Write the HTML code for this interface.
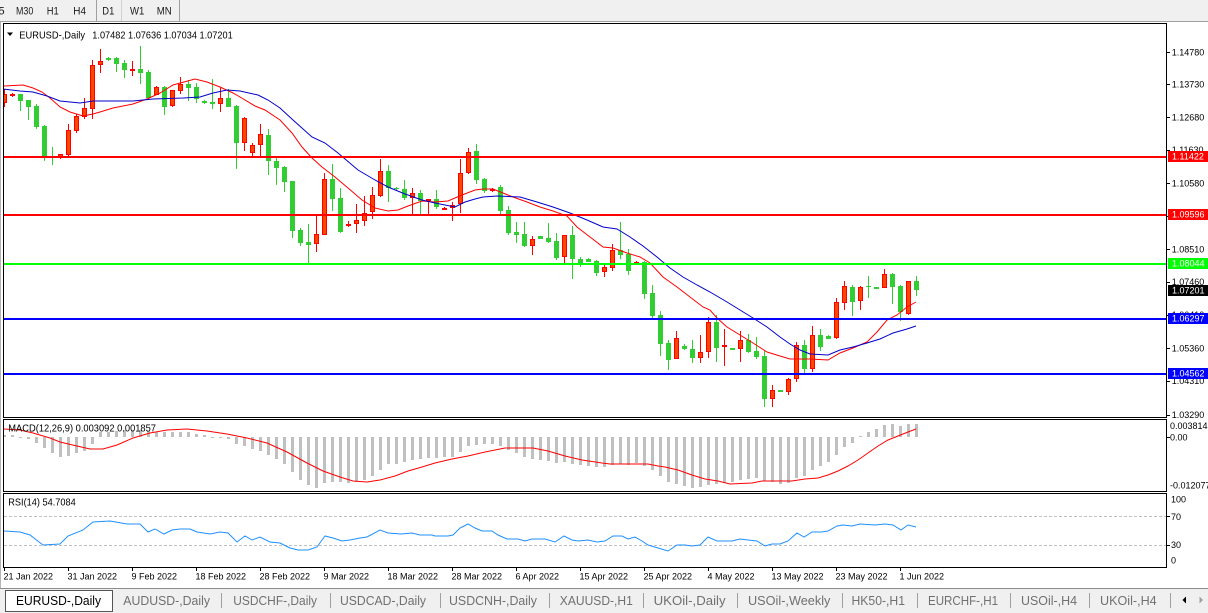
<!DOCTYPE html>
<html><head><meta charset="utf-8"><style>
html,body{margin:0;padding:0;background:#fff;width:1208px;height:613px;overflow:hidden}
svg{display:block}
text{font-family:"Liberation Sans",sans-serif}
</style></head><body>
<svg width="1208" height="613" viewBox="0 0 1208 613" xmlns="http://www.w3.org/2000/svg">
<defs>
<clipPath id="cm"><rect x="4" y="24" width="1162" height="393"/></clipPath>
<clipPath id="cd"><rect x="4" y="420" width="1162" height="71"/></clipPath>
<clipPath id="cr"><rect x="4" y="494" width="1162" height="73"/></clipPath>
</defs>
<rect width="1208" height="613" fill="#fff"/>
<!-- toolbar -->
<rect x="0" y="0" width="1208" height="21" fill="#f0f0f0"/>
<line x1="0" y1="21.5" x2="1208" y2="21.5" stroke="#a0a0a0"/>
<line x1="96.5" y1="0" x2="96.5" y2="21" stroke="#a0a0a0"/>
<line x1="121.5" y1="0" x2="121.5" y2="21" stroke="#d0d0d0"/>
<line x1="179.5" y1="0" x2="179.5" y2="21" stroke="#a0a0a0"/>
<g font-size="11" fill="#1a1a1a">
<text x="-1.5" y="14.5">5</text>
<text x="16" y="14.5" textLength="17.3" lengthAdjust="spacingAndGlyphs">M30</text>
<text x="46.7" y="14.5" textLength="12" lengthAdjust="spacingAndGlyphs">H1</text>
<text x="73.3" y="14.5" textLength="12.7" lengthAdjust="spacingAndGlyphs">H4</text>
<text x="102.3" y="14.5" textLength="12" lengthAdjust="spacingAndGlyphs">D1</text>
<text x="130" y="14.5" textLength="14.3" lengthAdjust="spacingAndGlyphs">W1</text>
<text x="156.7" y="14.5" textLength="15" lengthAdjust="spacingAndGlyphs">MN</text>
</g>
<line x1="0.5" y1="22" x2="0.5" y2="588" stroke="#b4b4b4"/>

<!-- main chart -->
<g clip-path="url(#cm)">
<path fill="none" stroke="#32cd32" stroke-width="1" d="M20.5 94V111M28.5 100V120M36.5 104V129M44.5 125V161M52.5 147V165M108.5 57V61M116.5 57V72M124.5 60V78M140.5 46V84M148.5 70V99M164.5 86V115M188.5 80V101M196.5 83V103M204.5 100V104M212.5 79V109M228.5 89V107M236.5 105V169M268.5 129V175M276.5 157V185M284.5 166V192M292.5 181V238M300.5 228V246M308.5 224V263M332.5 164V211M340.5 188V233M388.5 165V202M396.5 187V190M404.5 180V200M420.5 190V214M436.5 190V209M476.5 144V184M484.5 178V193M500.5 185V215M508.5 206V235M516.5 222V243M524.5 222V247M540.5 236V239M548.5 223V243M556.5 233V260M572.5 226V279M580.5 257V267M588.5 258V262M596.5 260V276M620.5 222V259M628.5 249V275M644.5 261V299M652.5 285V318M660.5 311V356M668.5 340V370M684.5 344V350M692.5 340V363M716.5 315V362M732.5 348V350M748.5 334V353M756.5 337V359M764.5 351V407M780.5 390V392M804.5 340V374M820.5 329V351M828.5 335V339M852.5 285V316M868.5 276V298M876.5 287V289M892.5 273V304M900.5 285V321M916.5 276V296"/>
<path fill="#32cd32" d="M18 94h5v7h-5zM26 100h5v7h-5zM34 106h5v21h-5zM42 126h5v31h-5zM50 156h5v1h-5zM106 58h5v2h-5zM114 58h5v6h-5zM122 63h5v7h-5zM138 69h5v4h-5zM146 72h5v26h-5zM162 87h5v20h-5zM186 84h5v4h-5zM194 87h5v12h-5zM202 101h5v2h-5zM210 102h5v2h-5zM226 98h5v9h-5zM234 106h5v37h-5zM266 135h5v26h-5zM274 161h5v7h-5zM282 167h5v15h-5zM290 181h5v50h-5zM298 230h5v13h-5zM306 242h5v3h-5zM330 179h5v20h-5zM338 198h5v34h-5zM386 171h5v17h-5zM394 188h5v1h-5zM402 189h5v9h-5zM418 193h5v8h-5zM434 199h5v8h-5zM474 151h5v29h-5zM482 179h5v12h-5zM498 187h5v24h-5zM506 210h5v23h-5zM514 232h5v3h-5zM522 234h5v12h-5zM538 236h5v3h-5zM546 238h5v4h-5zM554 241h5v17h-5zM570 235h5v24h-5zM578 259h5v4h-5zM586 259h5v3h-5zM594 261h5v12h-5zM618 250h5v5h-5zM626 254h5v17h-5zM642 262h5v32h-5zM650 293h5v23h-5zM658 315h5v29h-5zM666 343h5v17h-5zM682 346h5v3h-5zM690 349h5v9h-5zM714 322h5v26h-5zM730 348h5v2h-5zM746 340h5v12h-5zM754 351h5v6h-5zM762 356h5v43h-5zM778 390h5v2h-5zM802 345h5v24h-5zM818 335h5v12h-5zM826 336h5v3h-5zM850 287h5v15h-5zM866 286h5v1h-5zM874 287h5v2h-5zM890 274h5v13h-5zM898 286h5v26h-5zM914 281h5v9h-5z"/>
<path fill="none" stroke="#ff0000" stroke-width="1" d="M4.5 89V107M12.5 93V97M60.5 154V159M68.5 124V156M76.5 114V133M84.5 98V119M92.5 60V119M100.5 49V73M132.5 61V76M156.5 86V95M172.5 90V107M180.5 77V94M220.5 87V112M244.5 117V151M252.5 143V156M260.5 124V156M316.5 216V252M324.5 173V235M348.5 221V227M356.5 204V233M364.5 196V226M372.5 187V219M380.5 159V197M412.5 188V214M428.5 199V214M444.5 207V209M452.5 202V221M460.5 159V213M468.5 148V174M492.5 188V192M532.5 236V255M564.5 235V263M604.5 264V277M612.5 244V271M636.5 261V264M676.5 331V359M700.5 335V363M708.5 317V358M724.5 329V366M740.5 331V362M772.5 385V407M788.5 378V395M796.5 342V382M812.5 326V372M836.5 298V339M844.5 281V310M860.5 286V310M884.5 269V288M908.5 281V315"/>
<path fill="#ff0000" d="M10 94h5v2h-5zM130 69h5v2h-5zM346 224h5v2h-5zM426 199h5v2h-5zM442 208h5v2h-5zM490 189h5v2h-5zM634 262h5v2h-5zM722 345h5v2h-5z"/>
<path fill="#ff4500" stroke="#ff0000" stroke-width="1" d="M2.5 94.5h4v8h-4zM58.5 154.5h4v2h-4zM66.5 130.5h4v24h-4zM74.5 116.5h4v14h-4zM82.5 108.5h4v8h-4zM90.5 65.5h4v43h-4zM98.5 61.5h4v3h-4zM154.5 87.5h4v7h-4zM170.5 90.5h4v15h-4zM178.5 84.5h4v6h-4zM218.5 98.5h4v5h-4zM242.5 118.5h4v24h-4zM250.5 145.5h4v7h-4zM258.5 134.5h4v10h-4zM314.5 234.5h4v9h-4zM322.5 179.5h4v55h-4zM354.5 220.5h4v3h-4zM362.5 213.5h4v7h-4zM370.5 195.5h4v16h-4zM378.5 171.5h4v24h-4zM410.5 193.5h4v4h-4zM450.5 205.5h4v2h-4zM458.5 173.5h4v30h-4zM466.5 152.5h4v20h-4zM530.5 239.5h4v6h-4zM562.5 235.5h4v21h-4zM602.5 267.5h4v4h-4zM610.5 250.5h4v17h-4zM674.5 338.5h4v20h-4zM698.5 352.5h4v5h-4zM706.5 322.5h4v29h-4zM738.5 340.5h4v8h-4zM770.5 390.5h4v8h-4zM786.5 379.5h4v12h-4zM794.5 345.5h4v33h-4zM810.5 335.5h4v33h-4zM834.5 302.5h4v35h-4zM842.5 286.5h4v16h-4zM858.5 287.5h4v13h-4zM882.5 274.5h4v13h-4zM906.5 281.5h4v32h-4z"/>
<polyline fill="none" stroke="#ff0000" stroke-width="1" points="3,86 23,85 33,88 42,92 50,98 60,107 70,112 83,116 93,114 100,112 113,108 133,104 147,99 160,93 173,85 195,79 207,82 220,87 233,93 240,97 255,106 265,110 280,120 292,133 302,147 312,158 322,167 335,177 348,188 362,200 375,208 388,211 398,210 408,206 422,201 435,202 448,201 462,195 475,190 483,189 493,189 503,193 513,197 527,202 540,207 553,211 567,216 577,227 590,237 603,247 613,248 627,253 640,257 650,263 663,277 677,287 690,297 703,307 710,310 717,318 727,327 740,335 753,343 767,352 780,356 790,359 810,359 828,360 840,353 853,348 867,342 877,332 887,320 897,315 907,307 916,302"/>
<polyline fill="none" stroke="#0000cd" stroke-width="1" points="3,89 20,91 33,92 47,96 60,101 80,103 93,101 133,101 153,99 183,98 200,97 213,93 227,90 240,91 258,95 268,100 280,108 293,120 312,137 325,143 338,153 358,170 375,180 388,187 405,194 422,200 435,203 455,207 465,202 475,199 483,197 497,196 520,197 537,202 553,207 570,213 587,220 603,227 617,229 630,237 643,246 657,257 670,268 683,277 697,285 710,292 727,302 740,310 753,318 767,327 780,337 790,344 800,350 810,354 828,355 840,350 853,347 867,343 880,339 893,333 907,329 916,326"/>
<rect x="4" y="156" width="1162" height="2" fill="#ff0000"/>
<rect x="4" y="214" width="1162" height="2" fill="#ff0000"/>
<rect x="4" y="263" width="1162" height="2" fill="#00ff00"/>
<rect x="4" y="318" width="1162" height="2" fill="#0000ff"/>
<rect x="4" y="373" width="1162" height="2" fill="#0000ff"/>
</g>
<rect x="3.5" y="23.5" width="1163" height="394" fill="none" stroke="#000"/>
<polygon points="7,32.5 13,32.5 10,36" fill="#000"/>
<text x="19.3" y="38.3" font-size="10.5" fill="#000" textLength="65.7" lengthAdjust="spacingAndGlyphs">EURUSD-,Daily</text>
<text x="92.3" y="38.3" font-size="10.5" fill="#000" textLength="140.4" lengthAdjust="spacingAndGlyphs">1.07482 1.07636 1.07034 1.07201</text>

<!-- price axis -->
<path stroke="#000" stroke-width="1" d="M1166 52.5h4M1166 84.5h4M1166 117.5h4M1166 150.5h4M1166 183.5h4M1166 216.5h4M1166 249.5h4M1166 282.5h4M1166 315.5h4M1166 348.5h4M1166 381.5h4M1166 415.5h4"/>
<g font-size="9" fill="#000">
<text x="1171.7" y="55.5">1.14780</text>
<text x="1171.7" y="87.5">1.13730</text>
<text x="1171.7" y="120.7">1.12680</text>
<text x="1171.7" y="153">1.11630</text>
<text x="1171.7" y="186.5">1.10580</text>
<text x="1171.7" y="219.5">1.09530</text>
<text x="1171.7" y="252.5">1.08510</text>
<text x="1171.7" y="285">1.07460</text>
<text x="1171.7" y="318">1.06410</text>
<text x="1171.7" y="351.5">1.05360</text>
<text x="1171.7" y="384">1.04310</text>
<text x="1171.7" y="418">1.03290</text>
</g>
<rect x="1168" y="151" width="40" height="11" fill="#ff0000"/>
<rect x="1168" y="209" width="40" height="11" fill="#ff0000"/>
<rect x="1168" y="258" width="40" height="11" fill="#00ff00"/>
<rect x="1168" y="285" width="40" height="11" fill="#000"/>
<rect x="1168" y="313" width="40" height="11" fill="#0000ff"/>
<rect x="1168" y="368" width="40" height="11" fill="#0000ff"/>
<g font-size="9" fill="#fff">
<text x="1172" y="159.7">1.11422</text>
<text x="1172" y="217.7">1.09596</text>
<text x="1172" y="266.7">1.08044</text>
<text x="1172" y="293.7">1.07201</text>
<text x="1172" y="321.7">1.06297</text>
<text x="1172" y="376.7">1.04562</text>
</g>

<!-- MACD -->
<g clip-path="url(#cd)">
<path fill="none" stroke="#c0c0c0" stroke-width="3" d="M4.5 435V437M12.5 435V437M20.5 437V438M28.5 437V439M36.5 437V443M44.5 437V448M52.5 437V453M60.5 437V457M68.5 437V456M76.5 437V453M84.5 437V451M92.5 437V444M100.5 432V437M108.5 432V437M116.5 431V437M124.5 430V437M132.5 430V437M140.5 430V437M148.5 431V437M156.5 432V437M164.5 432V437M172.5 432V437M180.5 432V437M188.5 432V437M196.5 434V437M204.5 435V437M212.5 437V438M220.5 437V438M228.5 437V439M236.5 437V444M244.5 437V446M252.5 437V449M260.5 437V451M268.5 437V455M276.5 437V459M284.5 437V464M292.5 437V472M300.5 437V480M308.5 437V485M316.5 437V488M324.5 437V483M332.5 437V482M340.5 437V482M348.5 437V483M356.5 437V482M364.5 437V480M372.5 437V476M380.5 437V470M388.5 437V464M396.5 437V464M404.5 437V462M412.5 437V460M420.5 437V459M428.5 437V458M436.5 437V458M444.5 437V457M452.5 437V457M460.5 437V452M468.5 437V446M476.5 437V445M484.5 437V444M492.5 437V444M500.5 437V446M508.5 437V450M516.5 437V453M524.5 437V457M532.5 437V459M540.5 437V460M548.5 437V461M556.5 437V463M564.5 437V462M572.5 437V464M580.5 437V465M588.5 437V466M596.5 437V467M604.5 437V467M612.5 437V465M620.5 437V464M628.5 437V465M636.5 437V463M644.5 437V466M652.5 437V470M660.5 437V476M668.5 437V482M676.5 437V484M684.5 437V486M692.5 437V488M700.5 437V487M708.5 437V485M716.5 437V484M724.5 437V483M732.5 437V482M740.5 437V480M748.5 437V479M756.5 437V478M764.5 437V481M772.5 437V482M780.5 437V484M788.5 437V483M796.5 437V478M804.5 437V476M812.5 437V470M820.5 437V466M828.5 437V462M836.5 437V455M844.5 437V447M852.5 437V443M860.5 436V437M868.5 432V437M876.5 429V437M884.5 425V437M892.5 424V437M900.5 426V437M908.5 424V437M916.5 424V437"/>
<polyline fill="none" stroke="#ff0000" stroke-width="1" points="3,429 20,430 33,433 50,438 60,442 77,446 90,449 103,449 117,445 133,438 150,433 167,430 187,429 207,431 227,434 247,438 267,443 287,452 307,463 323,471 340,477 353,481 367,482 380,480 395,476 408,471 422,467 435,463 452,459 468,456 485,452 505,448 533,448 548,451 565,456 582,460 602,463 610,464 648,464 658,466 665,467 678,470 692,475 705,479 718,481 730,484 752,483 762,481 792,481 805,479 818,478 828,475 838,471 848,466 858,460 868,453 878,446 888,440 898,436 908,432 916,429"/>
</g>
<rect x="3.5" y="419.5" width="1163" height="72" fill="none" stroke="#000"/>
<text x="8.3" y="431.5" font-size="10.5" fill="#000" textLength="147.7" lengthAdjust="spacingAndGlyphs">MACD(12,26,9) 0.003092 0.001857</text>
<path stroke="#000" d="M1166 437.5h4"/>
<g font-size="9" fill="#000">
<text x="1170" y="429">0.003814</text>
<text x="1170" y="440.5">0.00</text>
<text x="1170" y="488.5">-0.012077</text>
</g>

<!-- RSI -->
<g clip-path="url(#cr)">
<path stroke="#c0c0c0" stroke-width="1" stroke-dasharray="3,2" d="M4 516.5H1166M4 545.5H1166"/>
<polyline fill="none" stroke="#1e90ff" stroke-width="1" points="3,531 20,532 30,535 43,545 60,544 68,536 83,530 93,522 110,521 127,524 140,524 148,532 155,529 164,534 172,530 180,529 190,529 197,532 210,534 220,532 228,533 237,542 245,536 252,540 260,537 270,542 280,543 290,548 298,550 308,550 317,547 325,536 333,538 342,541 350,540 360,538 367,537 380,530 388,533 401,534 412,533 420,535 432,535 435,536 448,536 453,535 460,528 468,524 475,528 482,531 492,531 498,535 507,539 518,539 525,541 532,539 545,539 555,542 564,536 572,540 578,541 588,540 597,542 605,541 613,536 622,536 628,539 635,537 642,541 648,545 658,548 668,551 677,545 685,545 692,546 700,545 708,537 717,541 723,541 732,541 740,539 748,540 757,541 765,546 772,544 780,544 788,541 797,533 804,537 812,532 822,532 828,531 837,526 843,525 852,526 860,524 875,525 885,524 893,525 901,530 908,525 916,527"/>
</g>
<rect x="3.5" y="493.5" width="1163" height="74" fill="none" stroke="#000"/>
<text x="8.3" y="505.7" font-size="10.5" fill="#000" textLength="67.4" lengthAdjust="spacingAndGlyphs">RSI(14) 54.7084</text>
<path stroke="#000" d="M1166 516.5h4M1166 545.5h4"/>
<g font-size="9" fill="#000">
<text x="1171" y="502.7">100</text>
<text x="1171" y="520">70</text>
<text x="1171" y="548">30</text>
<text x="1171" y="563.5">0</text>
</g>

<!-- time axis -->
<path stroke="#000" d="M4.5 567V571M68.5 567V571M132.5 567V571M196.5 567V571M260.5 567V571M324.5 567V571M388.5 567V571M452.5 567V571M516.5 567V571M580.5 567V571M644.5 567V571M708.5 567V571M772.5 567V571M836.5 567V571M900.5 567V571"/>
<g font-size="9" fill="#000">
<text x="3.5" y="579.5">21 Jan 2022</text>
<text x="67.5" y="579.5">31 Jan 2022</text>
<text x="131.5" y="579.5">9 Feb 2022</text>
<text x="195.5" y="579.5">18 Feb 2022</text>
<text x="259.5" y="579.5">28 Feb 2022</text>
<text x="323.5" y="579.5">9 Mar 2022</text>
<text x="387.5" y="579.5">18 Mar 2022</text>
<text x="451.5" y="579.5">28 Mar 2022</text>
<text x="515.5" y="579.5">6 Apr 2022</text>
<text x="579.5" y="579.5">15 Apr 2022</text>
<text x="643.5" y="579.5">25 Apr 2022</text>
<text x="707.5" y="579.5">4 May 2022</text>
<text x="771.5" y="579.5">13 May 2022</text>
<text x="835.5" y="579.5">23 May 2022</text>
<text x="899.5" y="579.5">1 Jun 2022</text>
</g>

<!-- tabs -->
<rect x="0" y="588" width="1208" height="25" fill="#f0f0f0"/>
<line x1="0" y1="588.5" x2="1208" y2="588.5" stroke="#8c8c8c"/>
<rect x="5.5" y="590.5" width="107" height="21" fill="#fff" stroke="#555"/>
<text x="16" y="605" font-size="13" fill="#000" textLength="85" lengthAdjust="spacingAndGlyphs">EURUSD-,Daily</text>
<g font-size="13" fill="#707070">
<text x="123.3" y="605" textLength="86.7" lengthAdjust="spacingAndGlyphs">AUDUSD-,Daily</text>
<text x="233.3" y="605" textLength="83.7" lengthAdjust="spacingAndGlyphs">USDCHF-,Daily</text>
<text x="340" y="605" textLength="86" lengthAdjust="spacingAndGlyphs">USDCAD-,Daily</text>
<text x="449" y="605" textLength="88" lengthAdjust="spacingAndGlyphs">USDCNH-,Daily</text>
<text x="559.8" y="605" textLength="73" lengthAdjust="spacingAndGlyphs">XAUUSD-,H1</text>
<text x="653.6" y="605" textLength="72" lengthAdjust="spacingAndGlyphs">UKOil-,Daily</text>
<text x="748" y="605" textLength="82.4" lengthAdjust="spacingAndGlyphs">USOil-,Weekly</text>
<text x="851.5" y="605" textLength="53.5" lengthAdjust="spacingAndGlyphs">HK50-,H1</text>
<text x="928" y="605" textLength="70" lengthAdjust="spacingAndGlyphs">EURCHF-,H1</text>
<text x="1021" y="605" textLength="56" lengthAdjust="spacingAndGlyphs">USOil-,H4</text>
<text x="1100" y="605" textLength="56.7" lengthAdjust="spacingAndGlyphs">UKOil-,H4</text>
</g>
<path stroke="#a0a0a0" d="M221.5 593V608M330.5 593V608M440.5 593V608M549.5 593V608M643.5 593V608M737.5 593V608M842.5 593V608M917.5 593V608M1010.5 593V608M1089.5 593V608M1170.5 593V608"/>
<polygon points="1182.5,600 1186,596.5 1186,603.5" fill="#000"/>
<polygon points="1203,600 1199.5,596.5 1199.5,603.5" fill="#a0a0a0"/>
</svg>
</body></html>
